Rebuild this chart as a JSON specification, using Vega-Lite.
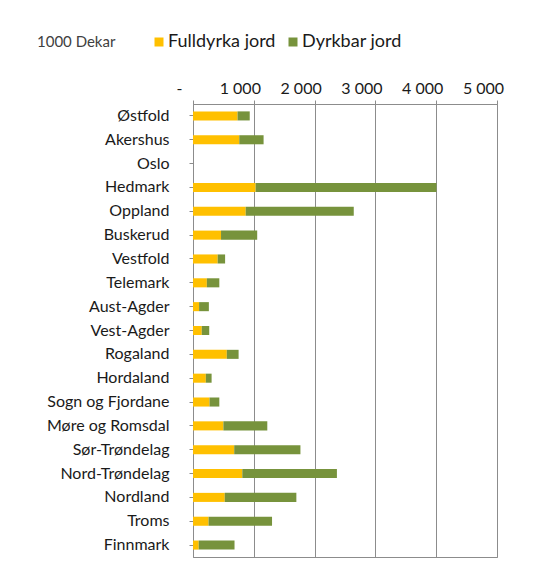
{
  "$schema": "https://vega.github.io/schema/vega-lite/v6.json",
  "autosize": {"type": "none"},
  "padding": {"left": 193, "top": 104, "right": 48, "bottom": 19},
  "width": 304,
  "height": 453,
  "background": "white",
  "config": {
    "font": "Lato",
    "view": {"stroke": "#8c8c8c", "strokeWidth": 1}
  },
  "data": {
    "values": [
      {"fylke": "Østfold", "Fulldyrka jord": 733, "Dyrkbar jord": 200},
      {"fylke": "Akershus", "Fulldyrka jord": 761, "Dyrkbar jord": 400},
      {"fylke": "Oslo", "Fulldyrka jord": 0, "Dyrkbar jord": 0},
      {"fylke": "Hedmark", "Fulldyrka jord": 1030, "Dyrkbar jord": 2975},
      {"fylke": "Oppland", "Fulldyrka jord": 867, "Dyrkbar jord": 1777},
      {"fylke": "Buskerud", "Fulldyrka jord": 461, "Dyrkbar jord": 595},
      {"fylke": "Vestfold", "Fulldyrka jord": 406, "Dyrkbar jord": 122},
      {"fylke": "Telemark", "Fulldyrka jord": 228, "Dyrkbar jord": 205},
      {"fylke": "Aust-Agder", "Fulldyrka jord": 100, "Dyrkbar jord": 161},
      {"fylke": "Vest-Agder", "Fulldyrka jord": 144, "Dyrkbar jord": 123},
      {"fylke": "Rogaland", "Fulldyrka jord": 556, "Dyrkbar jord": 194},
      {"fylke": "Hordaland", "Fulldyrka jord": 211, "Dyrkbar jord": 95},
      {"fylke": "Sogn og Fjordane", "Fulldyrka jord": 272, "Dyrkbar jord": 161},
      {"fylke": "Møre og Romsdal", "Fulldyrka jord": 500, "Dyrkbar jord": 722},
      {"fylke": "Sør-Trøndelag", "Fulldyrka jord": 678, "Dyrkbar jord": 1089},
      {"fylke": "Nord-Trøndelag", "Fulldyrka jord": 811, "Dyrkbar jord": 1556},
      {"fylke": "Nordland", "Fulldyrka jord": 522, "Dyrkbar jord": 1178},
      {"fylke": "Troms", "Fulldyrka jord": 256, "Dyrkbar jord": 1044},
      {"fylke": "Finnmark", "Fulldyrka jord": 94, "Dyrkbar jord": 589}
    ]
  },
  "transform": [
    {"fold": ["Fulldyrka jord", "Dyrkbar jord"], "as": ["type", "verdi"]}
  ],
  "mark": {"type": "bar"},
  "encoding": {
    "y": {
      "field": "fylke",
      "type": "nominal",
      "sort": null,
      "scale": {"paddingInner": 0.62, "paddingOuter": 0.31},
      "axis": {
        "title": null,
        "domainColor": "#8c8c8c",
        "tickColor": "#8c8c8c",
        "tickSize": 4,
        "labelPadding": 20,
        "labelFontSize": 16,
        "labelColor": "#1a1a1a",
        "labelFont": "Lato"
      }
    },
    "x": {
      "field": "verdi",
      "type": "quantitative",
      "stack": "zero",
      "scale": {"domain": [0, 5000], "nice": false},
      "axis": {
        "orient": "top",
        "title": null,
        "values": [0, 1000, 2000, 3000, 4000, 5000],
        "labelExpr": "datum.value == 0 ? '-' : replace(format(datum.value, ','), ',', ' ')",
        "labelOverlap": false,
        "labelFlush": false,
        "grid": true,
        "gridColor": "#8c8c8c",
        "gridOpacity": 1,
        "domainColor": "#8c8c8c",
        "tickColor": "#8c8c8c",
        "tickSize": 4,
        "labelPadding": 4,
        "labelOffset": -14,
        "labelFontSize": 16,
        "labelColor": "#1a1a1a",
        "labelFont": "Lato"
      }
    },
    "color": {
      "field": "type",
      "type": "nominal",
      "sort": ["Fulldyrka jord", "Dyrkbar jord"],
      "scale": {"domain": ["Fulldyrka jord", "Dyrkbar jord"], "range": ["#FFC000", "#77933C"]},
      "legend": {
        "orient": "none",
        "legendX": -156,
        "legendY": -71,
        "direction": "horizontal",
        "title": "1000 Dekar",
        "titleOrient": "left",
        "titleFontWeight": "normal",
        "titleFontSize": 15,
        "titleColor": "#404040",
        "titleFont": "Lato",
        "titlePadding": 34,
        "symbolType": "square",
        "symbolSize": 81,
        "symbolStrokeWidth": 0,
        "symbolOpacity": 1,
        "labelFontSize": 18,
        "labelFont": "Lato",
        "labelColor": "#1a1a1a",
        "labelOffset": 0,
        "columnPadding": 8,
        "labelLimit": 200
      }
    },
    "order": {"field": "type", "sort": "descending"}
  }
}
